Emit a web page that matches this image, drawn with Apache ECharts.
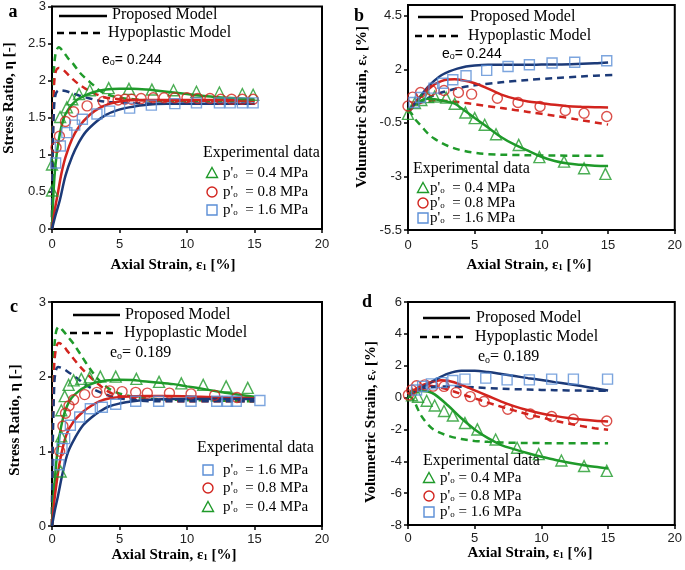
<!DOCTYPE html>
<html>
<head>
<meta charset="utf-8">
<script src="https://cdn.jsdelivr.net/npm/echarts@6/dist/echarts.min.js"></script>
<style>
  html, body { margin: 0; padding: 0; background: #fff; }
  #chart { width: 685px; height: 570px; }
</style>
</head>
<body>
<div id="chart"></div>
<script>
// ---- data: [axial strain %, value] ----
const xTicks = [0, 5, 10, 15, 20];

// a) stress ratio, e0 = 0.244
const aProp04 = [[0,0],[0.1,0.45],[0.25,0.85],[0.5,1.2],[0.75,1.42],[1,1.55],[1.5,1.68],[2,1.76],[3,1.84],[4,1.88],[5,1.89],[6,1.89],[7,1.88],[8,1.86],[10,1.82],[12,1.78],[14,1.76],[15,1.75]];
const aProp08 = [[0,0],[0.2,0.25],[0.45,0.5],[0.7,0.75],[1,0.97],[1.5,1.22],[2,1.38],[2.8,1.54],[3.5,1.63],[4.3,1.69],[5,1.72],[6,1.74],[8,1.74],[10,1.74],[12,1.74],[15,1.73]];
const aProp16 = [[0,0],[0.25,0.18],[0.57,0.38],[1,0.72],[1.5,0.98],[2,1.17],[2.5,1.31],[3.3,1.45],[4,1.54],[4.8,1.6],[5.7,1.64],[6.7,1.67],[8.5,1.69],[10,1.69],[15,1.69]];
const aHypo04 = [[0,0],[0.05,1.2],[0.12,2.0],[0.25,2.35],[0.5,2.45],[0.8,2.4],[1.2,2.3],[1.6,2.22],[2,2.12],[2.5,2.03],[3,1.95],[3.5,1.87],[4,1.82],[5,1.77],[6,1.75],[8,1.73],[10,1.73],[12,1.73],[15,1.73]];
const aHypo08 = [[0,0],[0.05,1.0],[0.12,1.8],[0.25,2.1],[0.5,2.17],[0.8,2.15],[1.2,2.08],[1.6,2.01],[2,1.95],[2.5,1.89],[3,1.84],[3.5,1.8],[4,1.77],[5,1.75],[6,1.74],[8,1.73],[10,1.73],[12,1.73],[15,1.73]];
const aHypo16 = [[0,0],[0.05,0.9],[0.12,1.5],[0.25,1.8],[0.5,1.87],[1,1.86],[1.5,1.83],[2,1.8],[2.8,1.76],[3.5,1.73],[4.5,1.71],[6,1.7],[8,1.69],[15,1.69]];
const aExp04 = [[0,0.52],[0,0.87],[0.6,1.51],[1.1,1.64],[1.5,1.75],[2.0,1.82],[2.8,1.87],[4.2,1.9],[5.7,1.89],[7.4,1.88],[9.0,1.87],[10.7,1.85],[12.4,1.84],[14.1,1.82],[14.9,1.81]];
const aExp08 = [[0.3,1.1],[0.55,1.25],[1.0,1.45],[1.6,1.58],[2.6,1.66],[3.8,1.72],[4.9,1.74],[5.4,1.75],[5.9,1.75],[6.6,1.76],[7.5,1.77],[8.3,1.77],[9.1,1.77],[10.0,1.77],[10.8,1.76],[11.7,1.76],[12.5,1.75],[13.3,1.75],[14.1,1.75],[14.9,1.75]];
const aExp16 = [[0.27,0.89],[0.62,1.12],[1.1,1.3],[1.68,1.4],[2.25,1.48],[3.33,1.55],[4.27,1.59],[5.75,1.63],[7.36,1.67],[9.1,1.69],[10.7,1.7],[12.4,1.7],[13.2,1.7],[14.1,1.7],[14.9,1.7]];

// b) volumetric strain, e0 = 0.244
const bProp04 = [[0,-0.05],[0.5,0.35],[1,0.55],[1.5,0.62],[2,0.6],[2.5,0.55],[3,0.48],[3.5,0.4],[4,0.18],[5,-0.27],[6,-0.72],[7,-1.17],[8,-1.52],[9,-1.8],[10,-2.08],[11,-2.28],[12,-2.4],[13,-2.46],[14,-2.5],[15,-2.51]];
const bProp08 = [[0,0.06],[0.5,0.4],[1,0.75],[1.5,1.05],[2,1.3],[2.5,1.45],[3,1.52],[3.5,1.53],[4,1.5],[5,1.35],[6,1.1],[7,0.82],[8,0.63],[9,0.5],[10,0.42],[11,0.34],[12,0.28],[13,0.25],[14,0.23],[15,0.22]];
const bProp16 = [[0,0.06],[0.5,0.4],[1,0.8],[1.5,1.18],[2,1.48],[2.5,1.72],[3.1,1.9],[3.7,2.03],[4.35,2.13],[5,2.18],[6,2.21],[8.5,2.21],[10,2.22],[12.2,2.24],[14,2.28],[15,2.32]];
const bHypo04 = [[0,0.1],[0.25,-0.05],[0.5,-0.3],[1,-0.65],[1.5,-1.0],[2,-1.25],[3,-1.58],[4,-1.78],[5,-1.9],[6,-1.96],[8,-2.0],[10,-2.02],[12,-2.03],[15,-2.04]];
const bHypo08 = [[0,0.0],[0.5,0.3],[1,0.45],[1.5,0.52],[2,0.55],[3,0.52],[4,0.45],[5,0.37],[6,0.28],[8,0.1],[10,-0.08],[12,-0.27],[14,-0.48],[15,-0.58]];
const bHypo16 = [[0,0.0],[0.5,0.3],[1,0.5],[2,0.8],[3,1.0],[4,1.15],[5,1.25],[6,1.33],[8,1.45],[10,1.55],[12,1.63],[14,1.7],[15.6,1.74]];
const bExp04 = [[0,-0.08],[0.52,0.42],[1.0,0.57],[1.5,0.7],[2.0,0.73],[2.86,0.68],[3.5,0.39],[4.3,-0.02],[5.0,-0.28],[5.75,-0.59],[6.6,-1.03],[8.3,-1.53],[9.85,-2.1],[11.7,-2.31],[13.2,-2.62],[14.8,-2.88]];
const bExp08 = [[0,0.29],[0.35,0.7],[0.94,0.92],[1.75,1.01],[2.7,1.01],[3.78,0.92],[4.77,0.84],[6.7,0.65],[8.25,0.45],[9.9,0.26],[11.8,0.08],[13.2,-0.05],[14.9,-0.2]];
const bExp16 = [[0.44,0.45],[0.94,0.68],[1.95,1.12],[2.6,1.35],[3.36,1.51],[4.35,1.7],[5.9,1.95],[7.5,2.13],[9.1,2.21],[10.8,2.29],[12.5,2.33],[14.9,2.4]];

// c) stress ratio, e0 = 0.189
const cProp04 = [[0,0],[0.1,0.35],[0.32,0.86],[0.55,1.2],[0.81,1.44],[1.1,1.6],[1.43,1.71],[2,1.81],[2.54,1.87],[3.2,1.92],[4,1.95],[5,1.96],[6,1.955],[6.7,1.94],[8,1.92],[9,1.9],[10,1.87],[11.4,1.83],[13,1.78],[15,1.73]];
const cProp08 = [[0,0],[0.15,0.3],[0.32,0.55],[0.6,0.88],[1.06,1.22],[1.6,1.4],[2.3,1.53],[3,1.62],[3.5,1.67],[4.3,1.71],[5.3,1.73],[7,1.74],[8.5,1.74],[11,1.73],[13,1.72],[15,1.71]];
const cProp16 = [[0,0],[0.2,0.2],[0.44,0.4],[0.8,0.72],[1.19,0.99],[1.7,1.18],[2.3,1.35],[2.9,1.45],[3.5,1.53],[4.2,1.6],[5,1.64],[6,1.67],[7.2,1.69],[9,1.7],[15,1.7]];
const cHypo04 = [[0,0],[0.05,1.3],[0.15,2.3],[0.3,2.6],[0.5,2.67],[0.8,2.62],[1.2,2.53],[1.6,2.44],[2,2.33],[2.5,2.19],[3,2.06],[3.5,1.95],[4,1.87],[4.5,1.81],[5.5,1.75],[7,1.71],[9,1.69],[12,1.68],[15,1.67]];
const cHypo08 = [[0,0],[0.05,1.2],[0.15,2.1],[0.3,2.38],[0.5,2.45],[0.8,2.42],[1.2,2.33],[1.6,2.24],[2,2.15],[2.8,2.0],[3.5,1.89],[4,1.82],[4.5,1.77],[5.3,1.73],[7,1.69],[10,1.67],[15,1.67]];
const cHypo16 = [[0,0],[0.05,1.0],[0.15,1.8],[0.25,2.05],[0.45,2.13],[0.8,2.11],[1.3,2.05],[2,1.96],[2.5,1.89],[3.2,1.82],[4,1.76],[5,1.71],[6,1.69],[7.2,1.67],[15,1.67]];
const cExp16 = [[0.52,0.82],[0.74,1.04],[0.94,1.17],[1.36,1.35],[2.05,1.46],[2.84,1.57],[3.73,1.59],[4.72,1.63],[6.2,1.67],[7.9,1.67],[10.3,1.67],[12.2,1.67],[13.0,1.67],[13.65,1.67],[15.4,1.68]];
const cExp08 = [[0.57,1.0],[0.81,1.34],[1.0,1.51],[1.26,1.61],[1.6,1.69],[2.42,1.76],[3.33,1.79],[4.27,1.81],[5.19,1.8],[6.2,1.79],[7.06,1.78],[8.7,1.78],[10.3,1.77],[12.05,1.75],[13.7,1.72]];
const cExp04 = [[0.64,0.73],[0.69,1.2],[0.69,1.55],[0.94,1.74],[1.23,1.89],[1.6,1.95],[2.17,1.97],[2.79,1.99],[3.58,2.0],[4.72,2.0],[6.25,1.97],[7.93,1.93],[9.58,1.91],[11.2,1.89],[12.9,1.87],[14.5,1.85]];

// d) volumetric strain, e0 = 0.189
const dProp04 = [[0,0.1],[0.5,0.35],[1,0.42],[1.5,0.38],[2,0.2],[3,-0.5],[4,-1.3],[5,-2.0],[6,-2.55],[7,-2.98],[8,-3.25],[9,-3.5],[10,-3.72],[11,-3.9],[12,-4.08],[13,-4.22],[14,-4.35],[15,-4.45]];
const dProp08 = [[0,0.2],[0.5,0.5],[1,0.75],[1.5,0.9],[2,1.02],[2.5,1.08],[3,1.05],[4,0.8],[5,0.45],[6,0.1],[7,-0.25],[8,-0.55],[9,-0.8],[10,-1.0],[11,-1.15],[12,-1.28],[13,-1.38],[14,-1.45],[15,-1.5]];
const dProp16 = [[0,0.1],[0.5,0.35],[1,0.6],[1.5,0.85],[2,1.1],[3,1.5],[4,1.68],[5,1.68],[6,1.6],[7,1.48],[8,1.35],[9,1.22],[10,1.1],[11,0.97],[12,0.85],[13,0.72],[14,0.58],[15,0.45]];
const dHypo04 = [[0,0.1],[0.25,0.0],[0.5,-0.3],[0.75,-0.75],[1,-1.15],[1.5,-1.7],[2,-2.05],[3,-2.4],[4,-2.6],[5,-2.72],[6,-2.78],[8,-2.84],[10,-2.86],[12,-2.87],[15,-2.87]];
const dHypo08 = [[0,0.2],[0.5,0.55],[1,0.72],[1.5,0.75],[2,0.7],[3,0.5],[4,0.22],[5,-0.05],[6,-0.32],[7,-0.58],[8,-0.82],[9,-1.05],[10,-1.25],[11,-1.45],[12,-1.62],[13,-1.78],[14,-1.92],[15,-2.02]];
const dHypo16 = [[0,0.2],[0.5,0.38],[1,0.55],[2,0.68],[3,0.7],[4,0.68],[6,0.6],[8,0.53],[10,0.48],[12,0.45],[14,0.43],[15,0.42]];
const dExp04 = [[0.3,0.15],[0.75,0.05],[1.4,-0.2],[2.0,-0.5],[2.7,-0.84],[3.36,-1.13],[4.27,-1.6],[5.2,-2.0],[6.57,-2.63],[8.18,-3.15],[9.8,-3.55],[11.5,-3.95],[13.2,-4.3],[14.9,-4.6]];
const dExp08 = [[0.03,0.17],[0.27,0.48],[0.64,0.74],[1.26,0.8],[1.88,0.72],[2.7,0.7],[3.6,0.31],[4.67,0.06],[5.7,-0.25],[7.48,-0.73],[9.16,-1.03],[10.77,-1.19],[12.4,-1.36],[14.9,-1.47]];
const dExp16 = [[0.64,0.48],[1.1,0.7],[1.75,0.86],[2.5,0.94],[3.36,1.07],[4.27,1.16],[5.83,1.22],[7.43,1.11],[9.1,1.11],[10.77,1.16],[12.4,1.16],[14.96,1.16]];

// ---- styling ----
const GREEN = '#1f9a2a', RED = '#d2241e', NAVY = '#1c3a78', LBLUE = '#5b8ed6';
const SERIF = '"Liberation Serif", "Times New Roman", serif';
const SANS = '"Liberation Sans", Arial, sans-serif';

const chart = echarts.init(document.getElementById('chart'), null, { renderer: 'canvas' });

const grids = [
  { left: 52, top: 6, width: 270, height: 223 },
  { left: 408, top: 5, width: 270, height: 225 },
  { left: 52, top: 302, width: 270, height: 224 },
  { left: 408, top: 302, width: 270, height: 223 }
].map(g => Object.assign(g, { show: true, borderColor: '#000', borderWidth: 2 }));

const yRanges = [
  { min: 0, max: 3, interval: 0.5 },
  { min: -5.5, max: 5, interval: 2.5 },
  { min: 0, max: 3, interval: 1 },
  { min: -8, max: 6, interval: 2 }
];

const axisCommon = {
  axisLine: { onZero: false, lineStyle: { color: '#000', width: 2 } },
  axisTick: { show: true, inside: false, length: 4, lineStyle: { color: '#000', width: 1.5 } },
  splitLine: { show: false },
  axisLabel: { color: '#222', fontFamily: SANS, fontSize: 13 }
};

const xAxes = grids.map((g, i) => Object.assign({}, axisCommon, {
  gridIndex: i, type: 'value', min: xTicks[0], max: xTicks[xTicks.length - 1], interval: xTicks[1] - xTicks[0],
  axisLabel: Object.assign({}, axisCommon.axisLabel, { margin: i < 2 ? 9 : 7 })
}));
const yAxes = yRanges.map((r, i) => Object.assign({}, axisCommon, {
  gridIndex: i, type: 'value', min: r.min, max: r.max, interval: r.interval,
  axisLabel: Object.assign({}, axisCommon.axisLabel, { margin: 6, showMaxLabel: i === 1 ? false : true })
}));

function line(i, data, color, dashed) {
  return {
    type: 'line', xAxisIndex: i, yAxisIndex: i, data: data, symbol: 'none', smooth: 0.35,
    lineStyle: { color: color, width: 2.5, type: dashed ? [7, 5] : 'solid' }, silent: true, z: 2
  };
}
function pts(i, data, symbol, color) {
  return {
    type: 'scatter', xAxisIndex: i, yAxisIndex: i, data: data, symbol: symbol,
    symbolSize: symbol === 'triangle' ? 11 : 10,
    itemStyle: { color: 'rgba(255,255,255,0)', borderColor: color, borderWidth: 1.4 }, silent: true, z: 3
  };
}

const series = [
  line(0, aHypo04, GREEN, true), line(0, aHypo08, RED, true), line(0, aHypo16, NAVY, true),
  line(0, aProp04, GREEN), line(0, aProp08, RED), line(0, aProp16, NAVY),
  pts(0, aExp04, 'triangle', GREEN), pts(0, aExp08, 'circle', RED), pts(0, aExp16, 'rect', LBLUE),

  line(1, bHypo04, GREEN, true), line(1, bHypo08, RED, true), line(1, bHypo16, NAVY, true),
  line(1, bProp04, GREEN), line(1, bProp08, RED), line(1, bProp16, NAVY),
  pts(1, bExp04, 'triangle', GREEN), pts(1, bExp08, 'circle', RED), pts(1, bExp16, 'rect', LBLUE),

  line(2, cHypo04, GREEN, true), line(2, cHypo08, RED, true), line(2, cHypo16, NAVY, true),
  line(2, cProp04, GREEN), line(2, cProp08, RED), line(2, cProp16, NAVY),
  pts(2, cExp04, 'triangle', GREEN), pts(2, cExp08, 'circle', RED), pts(2, cExp16, 'rect', LBLUE),

  line(3, dHypo04, GREEN, true), line(3, dHypo08, RED, true), line(3, dHypo16, NAVY, true),
  line(3, dProp04, GREEN), line(3, dProp08, RED), line(3, dProp16, NAVY),
  pts(3, dExp04, 'triangle', GREEN), pts(3, dExp08, 'circle', RED), pts(3, dExp16, 'rect', LBLUE)
];

// ---- annotation helpers (legend boxes, titles) ----
function richText(x, y, text, size, family, opts) {
  opts = opts || {};
  const weight = opts.bold ? 'bold' : 'normal';
  const sub = Math.round(size * 0.62);
  return {
    type: 'text', x: x, y: y, rotation: opts.rotation || 0, z: 10, silent: true,
    style: {
      text: text, fill: '#000', align: opts.align || 'left', textAlign: opts.align || 'left',
      verticalAlign: 'middle', textVerticalAlign: 'middle',
      fontSize: size, fontFamily: family, fontWeight: weight,
      rich: {
        n: { fontSize: size, fontFamily: family, fontWeight: weight, lineHeight: size, verticalAlign: 'middle' },
        s: { fontSize: sub, fontFamily: family, fontWeight: weight, lineHeight: sub, verticalAlign: 'bottom' }
      }
    }
  };
}
function legLine(x1, x2, y, dashed) {
  return { type: 'line', z: 10, silent: true, shape: { x1: x1, y1: y, x2: x2, y2: y },
    style: { stroke: '#000', lineWidth: 2.5, lineDash: dashed ? [7, 5] : null } };
}
function marker(kind, cx, cy) {
  const base = { z: 10, silent: true };
  if (kind === 'triangle') return Object.assign(base, { type: 'polygon',
    shape: { points: [[cx, cy - 5.5], [cx + 5.5, cy + 4.5], [cx - 5.5, cy + 4.5]] },
    style: { fill: 'none', stroke: GREEN, lineWidth: 1.4 } });
  if (kind === 'circle') return Object.assign(base, { type: 'circle', shape: { cx: cx, cy: cy, r: 5 },
    style: { fill: 'none', stroke: RED, lineWidth: 1.4 } });
  return Object.assign(base, { type: 'rect', shape: { x: cx - 5, y: cy - 5, width: 10, height: 10 },
    style: { fill: 'none', stroke: LBLUE, lineWidth: 1.4 } });
}
const pLabel = { triangle: '0.4', circle: '0.8', rect: '1.6' };
function legend(p) {
  const out = [
    legLine(p.solid[0], p.solid[1], p.solid[2]),
    richText(p.solidText[0], p.solidText[1], '{n|Proposed Model}', 16, SERIF),
    legLine(p.dash[0], p.dash[1], p.dash[2], true),
    richText(p.dashText[0], p.dashText[1], '{n|Hypoplastic Model}', 16, SERIF),
    richText(p.e0[0], p.e0[1], '{n|e}{s|o}{n|= ' + p.e0[2] + '}', p.e0[3], p.e0[4]),
    richText(p.exp[0], p.exp[1], '{n|Experimental data}', 16, SERIF)
  ];
  p.rows.forEach((kind, k) => {
    const cy = p.rowY[k];
    out.push(marker(kind, p.mx, cy));
    out.push(richText(p.tx, cy, "{n|p'}{s|o}{n|" + p.gap + '= ' + pLabel[kind] + ' MPa}', 15, SERIF));
  });
  return out;
}

const graphic = [].concat(
  legend({ solid: [59, 107, 16], solidText: [112, 15], dash: [57, 103, 33], dashText: [108, 33],
    e0: [102, 60, '0.244', 14, SANS], exp: [203, 153], mx: 212, tx: 223, gap: '  ',
    rows: ['triangle', 'circle', 'rect'], rowY: [173, 192, 210] }),
  legend({ solid: [418, 463, 17], solidText: [470, 17], dash: [415, 463, 36], dashText: [468, 36],
    e0: [442, 54, '0.244', 14, SANS], exp: [413, 169], mx: 423, tx: 430, gap: '  ',
    rows: ['triangle', 'circle', 'rect'], rowY: [188, 203, 218] }),
  legend({ solid: [73, 120, 315], solidText: [125, 315], dash: [70, 118, 333], dashText: [124, 333],
    e0: [110, 353, '0.189', 16, SERIF], exp: [197, 448], mx: 208, tx: 223, gap: '  ',
    rows: ['rect', 'circle', 'triangle'], rowY: [470, 488, 507] }),
  legend({ solid: [423, 470, 318], solidText: [476, 318], dash: [420, 468, 337], dashText: [475, 337],
    e0: [478, 357, '0.189', 16, SERIF], exp: [423, 461], mx: 429, tx: 440, gap: ' ',
    rows: ['triangle', 'circle', 'rect'], rowY: [478, 496, 512] }),
  [
    richText(13, 12, '{n|a}', 18, SERIF, { bold: true, align: 'center' }),
    richText(359, 16, '{n|b}', 18, SERIF, { bold: true, align: 'center' }),
    richText(14, 307, '{n|c}', 18, SERIF, { bold: true, align: 'center' }),
    richText(367, 302, '{n|d}', 18, SERIF, { bold: true, align: 'center' }),
    richText(173, 265, '{n|Axial Strain, ε}{s|1}{n| [%]}', 15, SERIF, { bold: true, align: 'center' }),
    richText(529, 265, '{n|Axial Strain, ε}{s|1}{n| [%]}', 15, SERIF, { bold: true, align: 'center' }),
    richText(174, 555, '{n|Axial Strain, ε}{s|1}{n| [%]}', 15, SERIF, { bold: true, align: 'center' }),
    richText(530, 553, '{n|Axial Strain, ε}{s|1}{n| [%]}', 15, SERIF, { bold: true, align: 'center' }),
    richText(9, 98, '{n|Stress Ratio, η [-]}', 15, SERIF, { bold: true, align: 'center', rotation: Math.PI / 2 }),
    richText(362, 107, '{n|Volumetric Strain, ε}{s|v}{n| [%]}', 15, SERIF, { bold: true, align: 'center', rotation: Math.PI / 2 }),
    richText(15, 420, '{n|Stress Ratio, η [-]}', 15, SERIF, { bold: true, align: 'center', rotation: Math.PI / 2 }),
    richText(371, 422, '{n|Volumetric Strain, ε}{s|v}{n| [%]}', 15, SERIF, { bold: true, align: 'center', rotation: Math.PI / 2 })
  ]
);

chart.setOption({
  backgroundColor: '#fff',
  animation: false,
  grid: grids,
  xAxis: xAxes,
  yAxis: yAxes,
  series: series,
  graphic: graphic
});
</script>
</body>
</html>
